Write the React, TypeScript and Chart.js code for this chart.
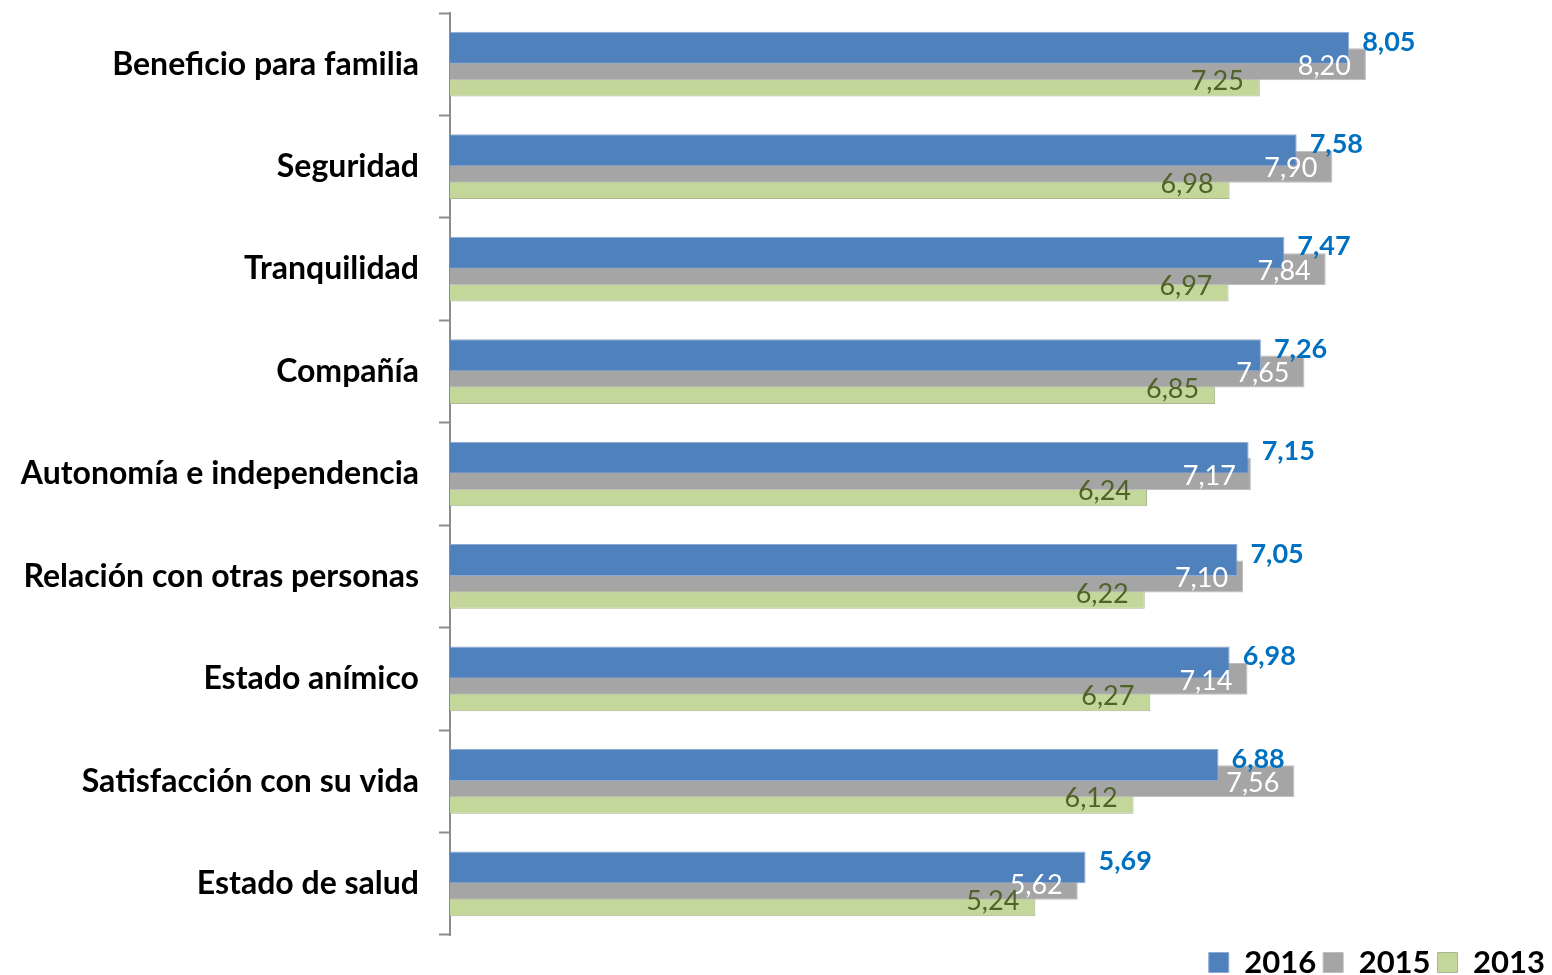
import React, { useEffect, useRef } from "react";
import { Chart, registerables } from "chart.js";

Chart.register(...registerables);

const categories = [
  "Beneficio para familia",
  "Seguridad",
  "Tranquilidad",
  "Compañía",
  "Autonomía e independencia",
  "Relación con otras personas",
  "Estado anímico",
  "Satisfacción con su vida",
  "Estado de salud",
];

const seriesNames = ["2016", "2015", "2013"];
const values2016 = [8.05, 7.58, 7.47, 7.26, 7.15, 7.05, 6.98, 6.88, 5.69];
const values2015 = [8.2, 7.9, 7.84, 7.65, 7.17, 7.1, 7.14, 7.56, 5.62];
const values2013 = [7.25, 6.98, 6.97, 6.85, 6.24, 6.22, 6.27, 6.12, 5.24];

const FONT = "Lato, 'Open Sans', sans-serif";
const fmt = (v: number) => v.toFixed(2).replace(".", ",");

const labelPlugin = {
  id: "barValueLabels",
  afterDatasetsDraw(chart: any) {
    const ctx = chart.ctx;
    ctx.save();
    ctx.textBaseline = "middle";
    chart.data.datasets.forEach((ds: any, di: number) => {
      const meta = chart.getDatasetMeta(di);
      meta.data.forEach((el: any, i: number) => {
        const txt = fmt(ds.data[i]);
        if (di === 0) {
          ctx.font = `bold 27px ${FONT}`;
          ctx.fillStyle = "#0070C0";
          ctx.textAlign = "left";
          ctx.fillText(txt, el.x + 13, el.y - 6);
        } else if (di === 1) {
          ctx.font = `27px ${FONT}`;
          ctx.fillStyle = "#FFFFFF";
          ctx.textAlign = "right";
          ctx.fillText(txt, el.x - 15, el.y + 2);
        } else {
          ctx.font = `27px ${FONT}`;
          ctx.fillStyle = "#4F6228";
          ctx.textAlign = "right";
          ctx.fillText(txt, el.x - 16, el.y + 1);
        }
      });
    });
    ctx.restore();
  },
};

export default function App() {
  const ref = useRef<HTMLCanvasElement | null>(null);
  useEffect(() => {
    if (!ref.current) return;
    const chart = new Chart(ref.current, {
      type: "bar",
      data: {
        labels: categories,
        datasets: [
          {
            label: seriesNames[0],
            data: values2016,
            backgroundColor: "#4F81BD",
            borderColor: "#8FAAD3",
            borderWidth: 1,
          },
          {
            label: seriesNames[1],
            data: values2015,
            backgroundColor: "#A5A5A5",
            borderColor: "#BDBDBD",
            borderWidth: 1,
          },
          {
            label: seriesNames[2],
            data: values2013,
            backgroundColor: "#C4D79B",
            borderColor: "#A9B694",
            borderWidth: 1,
          },
        ],
      },
      options: {
        indexAxis: "y",
        animation: false,
        responsive: false,
        maintainAspectRatio: false,
        categoryPercentage: 0.48,
        barPercentage: 1.95,
        layout: { padding: { top: 13, right: 0, left: 0, bottom: 0 } },
        scales: {
          x: {
            display: false,
            min: 0,
            max: 9.866,
          },
          y: {
            afterFit: (scale: any) => {
              scale.width = 450;
              scale.paddingTop = 0;
              scale.paddingBottom = 0;
            },
            grid: {
              drawOnChartArea: false,
              drawTicks: true,
              tickLength: 11,
              tickWidth: 2,
              color: "#8C8C8C",
              offset: true,
            },
            border: { display: true, color: "#8C8C8C", width: 2 },
            ticks: {
              padding: 20,
              color: "#000000",
              font: { family: FONT, size: 32, weight: "bold" },
            },
          },
        },
        plugins: {
          legend: {
            display: true,
            position: "bottom",
            align: "end",
            title: {
              display: true,
              text: " ",
              padding: 0,
              font: { family: FONT, size: 5, lineHeight: 1 },
            },
            labels: {
              boxWidth: 20,
              boxHeight: 20,
              padding: 7,
              color: "#000000",
              font: { family: FONT, size: 31, weight: "bold" },
            },
          },
          tooltip: { enabled: false },
        },
      },
      plugins: [labelPlugin],
    });
    return () => chart.destroy();
  }, []);
  return (
    <div style={{ position: "fixed", left: 0, top: 0, width: 1552, height: 988, background: "#fff" }}>
      <canvas ref={ref} width={1552} height={988} style={{ display: "block" }} />
    </div>
  );
}
